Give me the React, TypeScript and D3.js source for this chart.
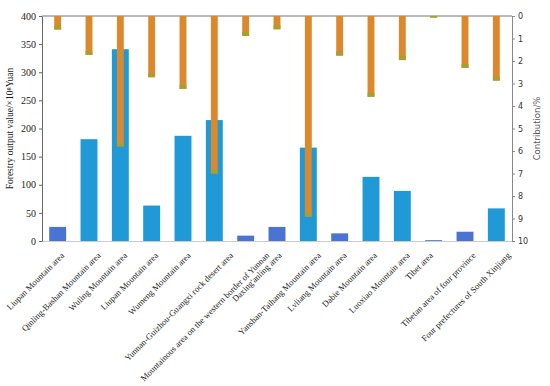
import React, { useRef, useEffect } from "react";
import * as d3 from "d3";

const regions = [
    "Liupan Mountain area",
    "Qinling-Bashan Mountain area",
    "Wuling Mountain area",
    "Liupan Mountain area",
    "Wumeng Mountain area",
    "Yunnan-Guizhou-Guangxi rock desert area",
    "Mountainous area on the western border of Yunnan",
    "Daxing'anling area",
    "Yanshan-Taihang Mountain area",
    "Lvliang Mountain area",
    "Dabie Mountain area",
    "Luoxiao Mountain area",
    "Tibet area",
    "Tibetan area of four province",
    "Four prefectures of South Xinjiang",
];

// forestry output value (left axis, x10^8 Yuan)
const outputValue = [25, 181, 341, 63, 187, 215, 9.5, 25, 166, 13.6, 114, 89, 1.5, 16.5, 58];

// contribution % (right axis, reversed)
const contribution = [0.6, 1.73, 5.8, 2.72, 3.24, 7.0, 0.89, 0.59, 8.92, 1.76, 3.59, 1.96, 0.07, 2.31, 2.87];

const leftTicks = [0, 50, 100, 150, 200, 250, 300, 350, 400];
const rightTicks = [0, 1, 2, 3, 4, 5, 6, 7, 8, 9, 10];

const W = 550;
const H = 386;
const margin = { top: 16, right: 38, bottom: 145, left: 42 };

const App: React.FC = () => {
    const svgRef = useRef<SVGSVGElement | null>(null);

    useEffect(() => {
        if (!svgRef.current) return;
        const svg = d3.select(svgRef.current);
        svg.selectAll("*").remove();

        const x0 = margin.left;
        const x1 = W - margin.right;
        const y0 = H - margin.bottom;
        const y1 = margin.top;

        const x = d3.scaleBand<number>()
            .domain(d3.range(regions.length))
            .range([x0, x1])
            .padding(0);

        const yLeft = d3.scaleLinear().domain([0, 400]).range([y0, y1]);
        const yRight = d3.scaleLinear().domain([0, 10]).range([y1, y0]);

        const blueW = x.bandwidth() * 0.54;
        const orangeW = x.bandwidth() * 0.22;

        // frame lines
        svg.append("line")
            .attr("x1", x0).attr("x2", x1).attr("y1", y1).attr("y2", y1)
            .attr("stroke", "#777").attr("stroke-width", 1);
        svg.append("line")
            .attr("x1", x0).attr("x2", x1).attr("y1", y0 + 0.5).attr("y2", y0 + 0.5)
            .attr("stroke", "#ccc").attr("stroke-width", 1);

        // blue bars
        svg.append("g")
            .selectAll("rect")
            .data(outputValue)
            .enter()
            .append("rect")
            .attr("x", (_, i) => (x(i) as number) + (x.bandwidth() - blueW) / 2)
            .attr("y", d => yLeft(d))
            .attr("width", blueW)
            .attr("height", d => y0 - yLeft(d))
            .attr("fill", d => (d < 30 ? "#4a74d3" : "#1f9ad6"));

        // orange bars hanging from top
        const og = svg.append("g");
        og.selectAll("rect.o")
            .data(contribution)
            .enter()
            .append("rect")
            .attr("class", "o")
            .attr("x", (_, i) => (x(i) as number) + (x.bandwidth() - orangeW) / 2)
            .attr("y", y1)
            .attr("width", orangeW)
            .attr("height", d => yRight(d) - y1)
            .attr("fill", "#dc882d");
        og.selectAll("rect.t")
            .data(contribution)
            .enter()
            .append("rect")
            .attr("class", "t")
            .attr("x", (_, i) => (x(i) as number) + (x.bandwidth() - orangeW) / 2)
            .attr("y", d => Math.max(y1, yRight(d) - 4))
            .attr("width", orangeW)
            .attr("height", d => Math.min(4, yRight(d) - y1))
            .attr("fill", "#a99f2c");

        // left axis
        const leftAxis = svg.append("g")
            .attr("transform", `translate(${x0},0)`)
            .call(d3.axisLeft(yLeft).tickValues(leftTicks).tickSize(3).tickSizeOuter(0));
        leftAxis.select(".domain").attr("stroke", "#666");
        leftAxis.selectAll(".tick line").attr("stroke", "#666");
        leftAxis.selectAll("text")
            .attr("font-family", "Liberation Serif, serif")
            .attr("font-size", 10)
            .attr("fill", "#222");

        // right axis
        const rightAxis = svg.append("g")
            .attr("transform", `translate(${x1},0)`)
            .call(d3.axisRight(yRight).tickValues(rightTicks).tickSize(3).tickSizeOuter(0));
        rightAxis.select(".domain").attr("stroke", "#888");
        rightAxis.selectAll(".tick line").attr("stroke", "#888");
        rightAxis.selectAll("text")
            .attr("font-family", "DejaVu Sans, sans-serif")
            .attr("font-size", 8)
            .attr("fill", "#333");

        // axis titles
        svg.append("text")
            .attr("transform", `translate(13,${(y0 + y1) / 2}) rotate(-90)`)
            .attr("text-anchor", "middle")
            .attr("font-family", "Liberation Serif, serif")
            .attr("font-size", 9.5)
            .attr("fill", "#222")
            .text("Forestry output value/×10⁸Yuan");

        svg.append("text")
            .attr("transform", `translate(540,${(y0 + y1) / 2}) rotate(-90)`)
            .attr("text-anchor", "middle")
            .attr("font-family", "DejaVu Sans, sans-serif")
            .attr("font-size", 8.5)
            .attr("fill", "#555")
            .text("Contribution/%");

        // x labels: longer labels sit further right, as in the original
        const labels = svg.append("g")
            .selectAll("text")
            .data(regions)
            .enter()
            .append("text")
            .attr("text-anchor", "end")
            .attr("font-family", "Liberation Serif, serif")
            .attr("font-size", 8.7)
            .attr("fill", "#222")
            .text(d => d);

        labels.each(function (_, i) {
            const el = this as SVGTextElement;
            const len = el.getComputedTextLength();
            const cx = (x(i) as number) + x.bandwidth() / 2 + 0.17 * len - 6;
            d3.select(el).attr("transform", `translate(${cx},${y0 + 15}) rotate(-45)`);
        });
    }, []);

    return (
        <svg
            ref={svgRef}
            width={W}
            height={H}
            style={{ position: "absolute", left: 0, top: 0, background: "#fff" }}
        />
    );
};

export default App;
